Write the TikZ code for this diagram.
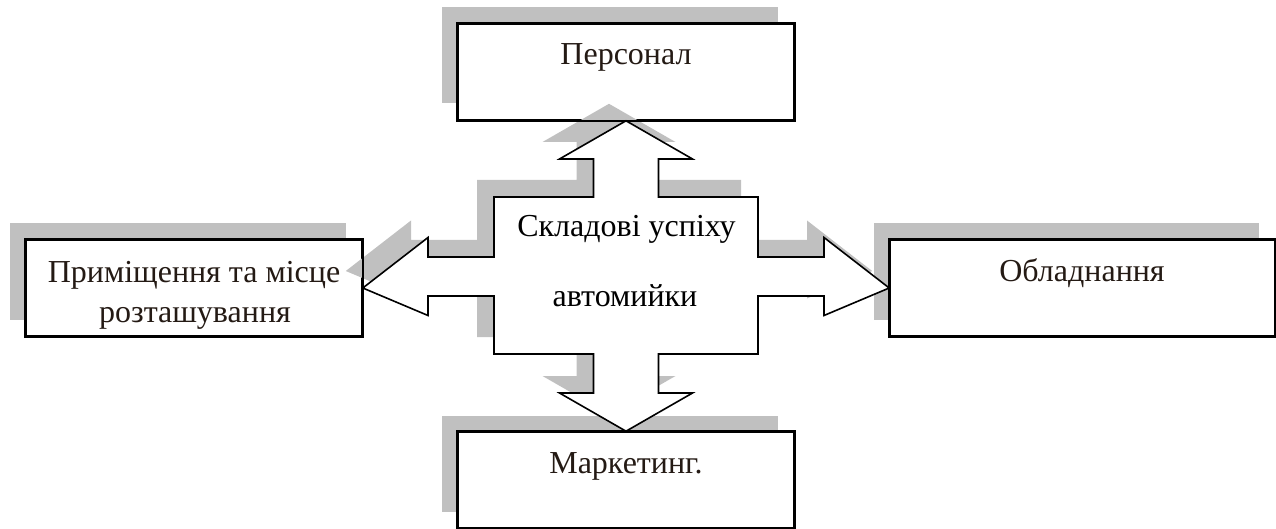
\documentclass[tikz,border=0pt]{standalone}
\usepackage{fontspec}
\setmainfont{Liberation Serif}
\usetikzlibrary{shadows}
\definecolor{shadowgray}{RGB}{192,192,192}
\definecolor{txtbrown}{RGB}{36,26,20}
\begin{document}
\begin{tikzpicture}[x=1pt,y=-1pt,
  boxnode/.style={rectangle,draw=black,line width=1.6pt,fill=white,inner sep=0pt,
    minimum width=336pt,minimum height=96pt,
    drop shadow={shadow xshift=-16.5pt,shadow yshift=16.5pt,fill=shadowgray,opacity=1}},
  boxline/.style={draw=black,line width=1.6pt},
  crossshape/.style={draw=black,line width=1.6pt,fill=white,line join=miter,
    drop shadow={shadow xshift=-17pt,shadow yshift=17pt,fill=shadowgray,opacity=1}},
  lbl/.style={anchor=base,inner sep=0pt,font=\fontsize{32}{40}\selectfont,text=txtbrown},
  corelbl/.style={anchor=base,inner sep=0pt,font=\fontsize{32}{40}\selectfont,text=black}]
\useasboundingbox (0,0) rectangle (1276,529);

% boxes
\node[boxnode] (pers) at (626,72) {};
\node[boxnode] (mark) at (626,480) {};
\node[boxnode] (prem) at (194,288) {};
\node[boxnode,minimum width=385pt] (obl) at (1082.5,288) {};

% central cross-shaped arrow
\coordinate (core) at (626,276.5);
\begin{scope}[shift={(core)}]
\draw[crossshape] (pers.south) -- (66.5,-117.5) -- (32.5,-117.5) -- (32.5,-79.5)
  -- (132,-79.5) -- (132,-19.5) -- (198,-19.5) -- (198,-39) -- (obl.west)
  -- (198,39) -- (198,19.5) -- (132,19.5) -- (132,77.5) -- (32.5,77.5)
  -- (32.5,116.5) -- (66.5,116.5) -- (mark.north) -- (-66.5,116.5)
  -- (-32.5,116.5) -- (-32.5,77.5) -- (-132,77.5) -- (-132,19.5)
  -- (-198,19.5) -- (-198,39) -- (prem.east) -- (-198,-39) -- (-198,-19.5)
  -- (-132,-19.5) -- (-132,-79.5) -- (-32.5,-79.5) -- (-32.5,-117.5)
  -- (-66.5,-117.5) -- cycle;
\end{scope}

% box borders on top of the arrow shadow
\draw[boxline] (pers.north west) rectangle (pers.south east);
\draw[boxline] (mark.north west) rectangle (mark.south east);
\draw[boxline] (prem.north west) rectangle (prem.south east);
\draw[boxline] (obl.north west) rectangle (obl.south east);

% texts
\node[lbl] (tpers) at (626,65) {Персонал};
\node[lbl] (tmark) at (626,473) {Маркетинг.};
\node[lbl] (tobl) at (1082,281) {Обладнання};
\node[lbl] (tprem1) at (194,282) {Приміщення та місце};
\node[lbl] (tprem2) at (195,322) {розташування};
\node[corelbl] (tcore1) at (626.5,237) {Складові успіху};
\node[corelbl] (tcore2) at (625,306) {автомийки};
\end{tikzpicture}
\end{document}
